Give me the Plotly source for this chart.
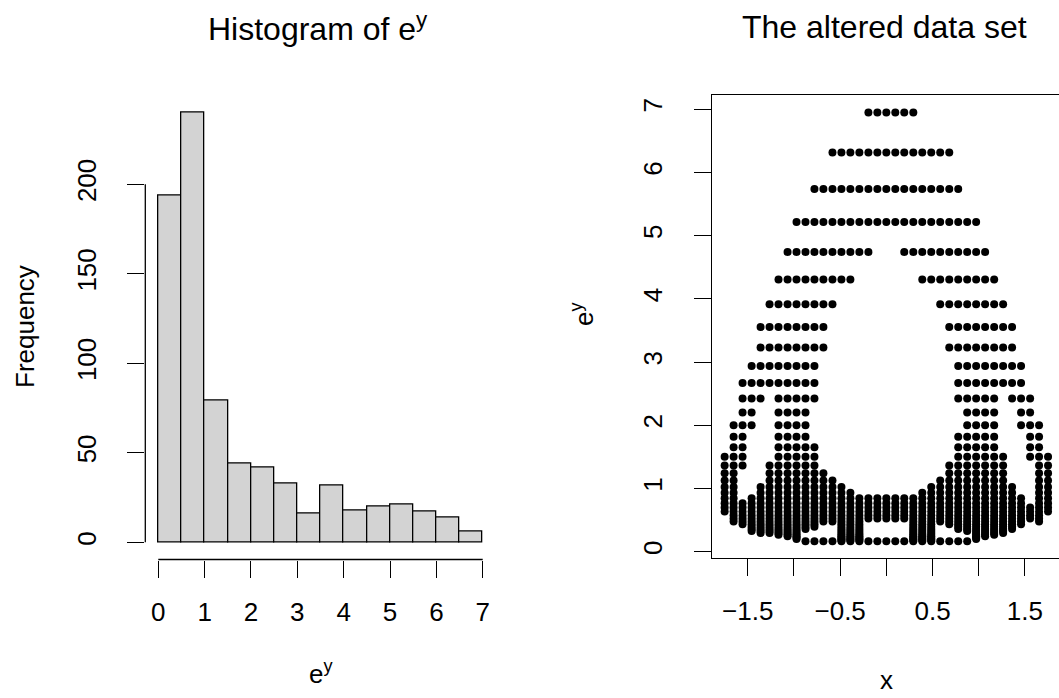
import plotly.graph_objects as go

W, H = 1059, 698

# ---------------- Histogram data ----------------
bin_left = [0.0, 0.5, 1.0, 1.5, 2.0, 2.5, 3.0, 3.5, 4.0, 4.5, 5.0, 5.5, 6.0, 6.5]
bin_counts = [194, 240, 79, 44, 42, 33, 16, 32, 18, 20, 21, 17, 14, 6]
hist_xticks = [0, 1, 2, 3, 4, 5, 6, 7]
hist_yticks = [0, 50, 100, 150, 200]

# ---------------- Scatter data (grid) ----------------
x_cols = [-1.750, -1.653, -1.556, -1.458, -1.361, -1.264, -1.167, -1.069, -0.972,
          -0.875, -0.778, -0.681, -0.583, -0.486, -0.389, -0.292, -0.194, -0.097,
          0.000, 0.097, 0.194, 0.292, 0.389, 0.486, 0.583, 0.681, 0.778, 0.875,
          0.972, 1.069, 1.167, 1.264, 1.361, 1.458, 1.556, 1.653, 1.750]
ey_levels = [6.95, 6.315, 5.74, 5.215, 4.74, 4.305, 3.913, 3.555, 3.23, 2.936,
             2.668, 2.424, 2.203, 2.002, 1.819, 1.653, 1.502, 1.365, 1.24, 1.127,
             1.024, 0.931, 0.846, 0.768, 0.698, 0.635, 0.577, 0.524, 0.476, 0.433,
             0.393, 0.357, 0.325, 0.295, 0.268, 0.244, 0.221, 0.201, 0.183, 0.166]
# for each column: runs of filled levels [top index, bottom index] (indices into ey_levels)
column_runs = [
    [[16, 25]],
    [[13, 28]],
    [[10, 17], [23, 29]],
    [[9, 13], [22, 32]],
    [[7, 11], [20, 33]],
    [[6, 10], [17, 33]],
    [[5, 34]],
    [[4, 35]],
    [[3, 37]],
    [[3, 31], [39, 39]],
    [[2, 11], [15, 30], [39, 39]],
    [[2, 8], [18, 28], [39, 39]],
    [[1, 6], [19, 28], [39, 39]],
    [[1, 5], [20, 39]],
    [[1, 5], [21, 39]],
    [[1, 4], [22, 39]],
    [[0, 4], [22, 27], [39, 39]],
    [[0, 3], [22, 27], [39, 39]],
    [[0, 3], [22, 27], [39, 39]],
    [[0, 3], [22, 27], [39, 39]],
    [[0, 4], [22, 27], [39, 39]],
    [[0, 4], [22, 39]],
    [[1, 5], [21, 39]],
    [[1, 5], [20, 39]],
    [[1, 6], [19, 28], [39, 39]],
    [[1, 8], [17, 29], [39, 39]],
    [[2, 11], [14, 31], [39, 39]],
    [[3, 32], [39, 39]],
    [[3, 37]],
    [[4, 35]],
    [[5, 34]],
    [[6, 10], [16, 33]],
    [[7, 11], [20, 31]],
    [[9, 13], [22, 29]],
    [[11, 16], [24, 27]],
    [[13, 28]],
    [[16, 25]],
]
scat_xtick_vals = [-1.5, -0.5, 0.5, 1.5]
scat_xtick_text = ["\u22121.5", "\u22120.5", "0.5", "1.5"]
scat_xtick_unlabeled = [-1.0, 0.0, 1.0]
scat_yticks = [0, 1, 2, 3, 4, 5, 6, 7]

pts_x, pts_y = [], []
for j, runs in enumerate(column_runs):
    for a, b in runs:
        for k in range(a, b + 1):
            pts_x.append(x_cols[j])
            pts_y.append(ey_levels[k])


def fx(px):
    return px / W


def fy(py):
    return 1 - py / H


FONT = "Liberation Sans, Arial, Helvetica, sans-serif"
TICK = 26
LW = 1.3

fig = go.Figure()
fig.add_trace(go.Bar(x=bin_left, y=bin_counts, width=0.5, offset=0,
                     marker=dict(color="#D3D3D3", line=dict(color="black", width=LW)),
                     xaxis="x", yaxis="y", showlegend=False, hoverinfo="skip"))
fig.add_trace(go.Scatter(x=pts_x, y=pts_y, mode="markers",
                         marker=dict(size=8, color="black", line=dict(width=0)),
                         xaxis="x2", yaxis="y2", showlegend=False, hoverinfo="skip"))

common = dict(showgrid=False, zeroline=False, ticks="outside", ticklen=17,
              tickwidth=LW, tickcolor="black", automargin=False,
              tickfont=dict(family=FONT, size=TICK, color="black"))

XSTAND = 12
YSTAND = 21

fig.update_layout(
    width=W, height=H, margin=dict(l=0, r=0, t=0, b=0),
    paper_bgcolor="white", plot_bgcolor="white", bargap=0,
    font=dict(family=FONT, color="black"),
    xaxis=dict(domain=[fx(145.3), fx(495.7)], range=[-0.28, 7.28], anchor="y",
               tickvals=hist_xticks, showline=False, ticklabelstandoff=XSTAND, **common),
    yaxis=dict(domain=[fy(559.5), fy(95.5)], range=[-9.6, 249.6], anchor="x",
               tickvals=hist_yticks, tickangle=-90, showline=False,
               ticklabelstandoff=YSTAND, **common),
    xaxis2=dict(domain=[fx(711.7), 1.0], range=[-1.89, -1.89 + (W - 711.7) / 92.4],
                anchor="y2", tickvals=scat_xtick_vals, ticktext=scat_xtick_text,
                minor=dict(tickvals=scat_xtick_unlabeled, ticks="outside", ticklen=17,
                           tickwidth=LW, tickcolor="black", showgrid=False),
                showline=True, mirror=True, linecolor="black", linewidth=LW,
                ticklabelstandoff=XSTAND, **common),
    yaxis2=dict(domain=[fy(558.3), fy(95.3)], range=[-0.105, 7.221], anchor="x2",
                tickvals=scat_yticks, tickangle=-90,
                showline=True, mirror=False, linecolor="black", linewidth=LW,
                ticklabelstandoff=YSTAND, **common),
)

# histogram axis lines spanning only the tick range (R style)
fig.add_shape(type="line", xref="paper", yref="y", x0=fx(145.3), x1=fx(145.3),
              y0=0, y1=200, line=dict(color="black", width=LW))
fig.add_shape(type="line", xref="x", yref="paper", x0=0, x1=7,
              y0=fy(559.5), y1=fy(559.5), line=dict(color="black", width=LW))

ann = dict(xref="paper", yref="paper", showarrow=False, xanchor="center", yanchor="middle")
fig.add_annotation(x=fx(318), y=fy(27), text="Histogram of e<sup>y</sup>",
                   font=dict(family=FONT, size=32, color="black"), **ann)
fig.add_annotation(x=fx(884), y=fy(27), text="The altered data set",
                   font=dict(family=FONT, size=32, color="black"), **ann)
fig.add_annotation(x=fx(320.5), y=fy(672), text="e<sup>y</sup>",
                   font=dict(family=FONT, size=TICK, color="black"), **ann)
fig.add_annotation(x=fx(886.4), y=fy(680), text="x",
                   font=dict(family=FONT, size=TICK, color="black"), **ann)
fig.add_annotation(x=fx(25), y=fy(327), text="Frequency", textangle=-90,
                   font=dict(family=FONT, size=TICK, color="black"), **ann)
fig.add_annotation(x=fx(582), y=fy(314), text="e<sup>y</sup>", textangle=-90,
                   font=dict(family=FONT, size=TICK, color="black"), **ann)

fig.write_html("out.html")
